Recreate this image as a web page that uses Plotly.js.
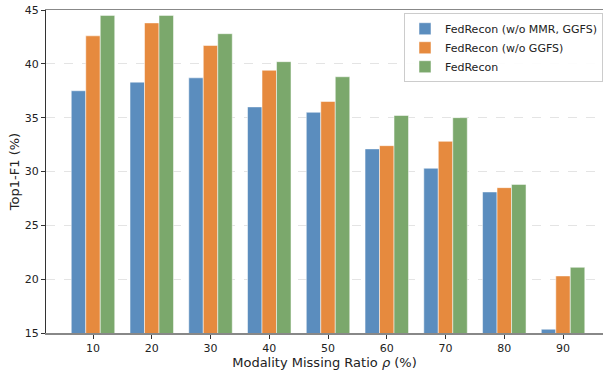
<!DOCTYPE html>
<html><head><meta charset="utf-8">
<script src="https://cdn.plot.ly/plotly-3.0.1.min.js"></script>
<style>html,body{margin:0;padding:0;background:#fff}</style>
</head><body><div id="chart" style="width:603px;height:371px"></div>
<script>
const categories = ['10','20','30','40','50','60','70','80','90'];
const seriesNames = ['FedRecon (w/o MMR, GGFS)','FedRecon (w/o GGFS)','FedRecon'];
const noMmrGgfs = [37.5, 38.3, 38.7, 36.0, 35.5, 32.1, 30.3, 28.1, 15.35];
const noGgfs = [42.6, 43.8, 41.7, 39.4, 36.5, 32.4, 32.8, 28.5, 20.3];
const fedRecon = [44.5, 44.5, 42.8, 40.2, 38.8, 35.2, 35.0, 28.8, 21.1];
const colors = ['#5B8DBE', '#E68A3E', '#7BA86C'];
const values = [noMmrGgfs, noGgfs, fedRecon];
const font = 'DejaVu Sans, sans-serif';
const traces = values.map((v, i) => ({
  type: 'bar', x: categories, y: v, name: seriesNames[i],
  marker: {color: colors[i], line: {color: 'rgba(255,255,255,0.5)', width: 1}},
  base: 0
}));
const layout = {
  width: 603, height: 371,
  margin: {l: 46, r: 0, t: 10, b: 38},
  paper_bgcolor: '#fff', plot_bgcolor: '#fff',
  barmode: 'group', bargap: 0.26, bargroupgap: 0,
  font: {family: font, size: 11, color: '#222'},
  xaxis: {
    type: 'category', range: [-0.8, 8.68],
    showline: true, linecolor: '#888', linewidth: 1.5, mirror: true,
    ticks: 'outside', ticklen: 4, tickcolor: '#333',
    showgrid: false, zeroline: false,
    title: {text: 'Modality Missing Ratio <i>ρ</i> (%)', font: {family: font, size: 13, color: '#222'}, standoff: 3}
  },
  yaxis: {
    range: [15, 45], dtick: 5, tick0: 15,
    showline: true, linecolor: '#333', linewidth: 1,
    ticks: 'outside', ticklen: 4, tickcolor: '#333',
    showgrid: true, gridcolor: '#dddddd', griddash: 'dash', gridwidth: 0.8,
    zeroline: false,
    title: {text: 'Top1-F1 (%)', font: {family: font, size: 13, color: '#222'}, standoff: 2}
  },
  legend: {
    x: 1.0, xanchor: 'right', y: 0.99, yanchor: 'top',
    bgcolor: 'rgba(255,255,255,0.9)', bordercolor: '#cccccc', borderwidth: 1,
    font: {family: font, size: 11, color: '#222'},
    tracegroupgap: 0, itemwidth: 30
  },
  showlegend: true
};
Plotly.newPlot('chart', traces, layout, {displayModeBar: false, staticPlot: true});
</script></body></html>
